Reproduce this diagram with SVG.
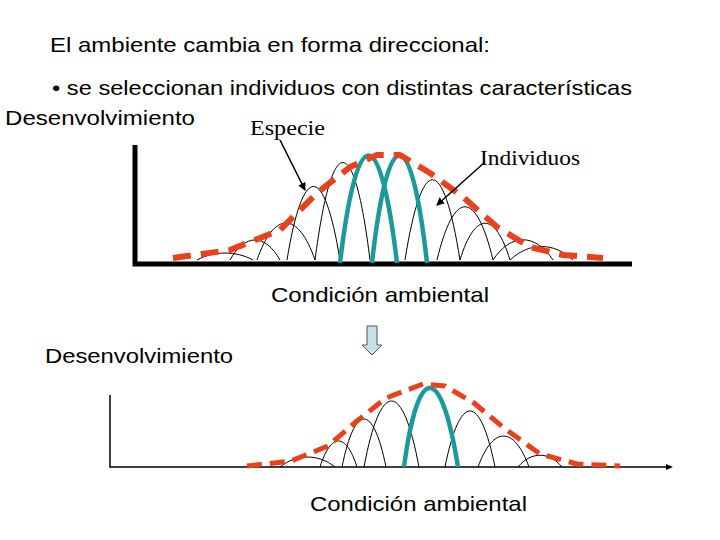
<svg xmlns="http://www.w3.org/2000/svg" width="720" height="540" viewBox="0 0 720 540">
<defs>
<style>
.t{font-family:"Liberation Sans",Arial,sans-serif;font-size:21px;fill:#000}
.s{font-family:"Liberation Serif","Times New Roman",serif;font-size:21px;fill:#000}
.a{fill:none;stroke:#000;stroke-width:1}
.g{fill:none;stroke:#1a9a9a;stroke-width:4.5}
.r{fill:none;stroke:#e8411c;stroke-linejoin:round}
</style>
<marker id="ah" markerWidth="8" markerHeight="8" refX="7" refY="4" orient="auto" markerUnits="userSpaceOnUse"><path d="M0,0 L8,4 L0,8 z" fill="#000"/></marker>
</defs>
<rect width="720" height="540" fill="#fff"/>
<g id="texts">
<text class="t" x="50" y="52" textLength="440" lengthAdjust="spacingAndGlyphs">El ambiente cambia en forma direccional:</text>
<text class="t" x="52" y="95" textLength="580" lengthAdjust="spacingAndGlyphs">• se seleccionan individuos con distintas características</text>
<text class="t" x="5" y="125" textLength="190" lengthAdjust="spacingAndGlyphs">Desenvolvimiento</text>
<text class="s" x="250" y="135" textLength="75" lengthAdjust="spacingAndGlyphs">Especie</text>
<text class="s" x="480" y="165" textLength="100" lengthAdjust="spacingAndGlyphs">Individuos</text>
<text class="t" x="271" y="302" textLength="218" lengthAdjust="spacingAndGlyphs">Condición ambiental</text>
<text class="t" x="45" y="363" textLength="188" lengthAdjust="spacingAndGlyphs">Desenvolvimiento</text>
<text class="t" x="310" y="511" textLength="217" lengthAdjust="spacingAndGlyphs">Condición ambiental</text>
</g>
<g id="chart1">
<path d="M135,145 V264 H632" fill="none" stroke="#000" stroke-width="5"/>
<g class="a">
<path d="M197,260 C214,250.7 236,250.7 253,260"/>
<path d="M230,260 C245,233.3 265,233.3 280,260"/>
<path d="M257,260 C274,210.7 298,210.7 315,260"/>
<path d="M287,260 C303,162 324,162 340,260"/>
<path d="M315,260 C332,130 354,130 370,260"/>
<path d="M405,260 C422,153 443,153 460,260"/>
<path d="M437,260 C454,189 476,189 493,260"/>
<path d="M460,260 C475,211 495,211 510,260"/>
<path d="M493,260 C511,233 535,233 553,260"/>
<path d="M510,260 C529,242 554,242 573,260"/>
</g>
<path class="g" d="M340,263 C357,119.7 380,119.7 397,263"/>
<path class="g" d="M372,263 C388,119.7 411,119.7 427,263"/>
<polyline class="r" stroke-width="6" stroke-dasharray="18,10" points="173,258 230,250 280,230 317,193 350,167 377,155 400,155 430,173 463,197 497,227 530,247 563,255 603,258"/>
</g>
<g id="connectors">
<line x1="280" y1="140" x2="305" y2="190" stroke="#000" stroke-width="1.5" marker-end="url(#ah)"/>
<line x1="485" y1="162" x2="437" y2="205" stroke="#000" stroke-width="1.5" marker-end="url(#ah)"/>
<path d="M367,326 H377 V345 H382 L372,355 L362,345 H367 Z" fill="#c8dfe6" stroke="#555" stroke-width="1"/>
</g>
<g id="chart2">
<path d="M110,395 V467 H668" fill="none" stroke="#000" stroke-width="1.5"/>
<path d="M666,464 L673,467 L666,470 z" fill="#000"/>
<g class="a">
<path d="M280,467 C296.5,453.7 318.5,453.7 335,467"/>
<path d="M320,467 C331,432.3 346,432.3 357,467"/>
<path d="M342,467 C355,403 373,403 386,467"/>
<path d="M364,467 C380.5,379 402.5,379 419,467"/>
<path d="M445,467 C460,392.3 480,392.3 495,467"/>
<path d="M478,467 C493,425.7 514,425.7 529,467"/>
<path d="M518,467 C531,451.3 549,451.3 562,467"/>
</g>
<path class="g" d="M404,467 C418,361.7 441,361.7 458,467"/>
<polyline class="r" stroke-width="5" stroke-dasharray="15,8" points="247,466 291,461 328,446 357,421 386,398 423,384 445,386 474,403 504,428 540,454 577,464 620,466"/>
</g>
</svg>
